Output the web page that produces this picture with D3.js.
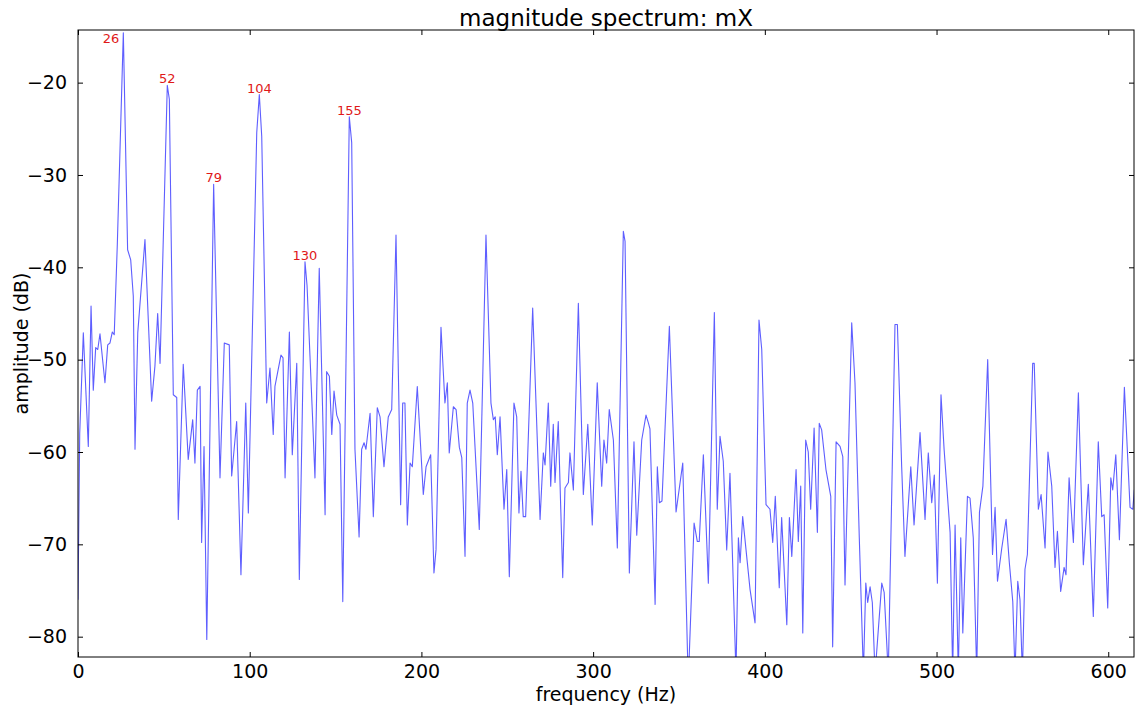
<!DOCTYPE html>
<html>
<head>
<meta charset="utf-8">
<script src="https://cdn.jsdelivr.net/npm/d3@7"></script>
<style>
  body { margin: 0; background: #fff; }
  svg { font-family: "DejaVu Sans", sans-serif; }
</style>
</head>
<body>
<div id="chart"></div>
<script>
const width = 1139
const height = 710

const margin = {
    top: 30,
    bottom: 53,
    left: 78,
    right: 5
}

// spectrum: frequency (Hz) and magnitude (dB)
const freqs = [
    0, 1.0, 3.1, 6.0, 7.6, 8.9, 10.3, 11.5, 12.8, 15.7,
    17.3, 18.6, 20.0, 21.1, 22.9, 26.4, 28.9, 30.7, 32.2, 33.2,
    34.8, 39.0, 42.9, 44.8, 46.4, 47.8, 52.0, 53.2, 55.5, 57.5,
    58.4, 61.3, 64.2, 66.8, 68.1, 69.5, 71.1, 72.0, 73.4, 75.0,
    79.0, 82.7, 85.2, 88.1, 89.5, 92.4, 94.9, 97.7, 99.2, 104.1,
    105.6, 107.0, 109.9, 111.8, 113.7, 114.7, 118.2, 119.4, 120.6, 123.1,
    124.8, 127.4, 128.9, 132.2, 133.4, 135.1, 136.5, 138.0, 140.5, 143.9,
    144.8, 146.4, 147.8, 149.1, 150.7, 152.6, 154.2, 158.0, 159.4, 161.3,
    163.7, 165.2, 166.6, 167.7, 170.1, 172.0, 174.3, 175.9, 178.2, 180.7,
    182.7, 185.2, 187.9, 189.1, 190.4, 191.8, 193.4, 194.7, 197.6, 201.1,
    202.7, 205.4, 207.3, 208.5, 211.4, 213.7, 215.1, 216.2, 218.6, 220.2,
    222.1, 223.5, 225.4, 226.7, 228.3, 229.9, 233.7, 237.6, 240.5, 241.9,
    243.0, 244.2, 245.8, 248.1, 249.7, 251.2, 253.9, 255.5, 256.8, 258.0,
    259.3, 260.7, 264.8, 269.1, 271.0, 272.0, 273.9, 275.3, 276.8, 277.8,
    279.7, 282.3, 283.6, 285.6, 286.5, 288.5, 291.4, 294.3, 296.9, 299.5,
    302.4, 305.0, 306.3, 307.9, 309.4, 311.8, 314.1, 317.6, 318.6, 321.1,
    323.8, 325.4, 328.3, 330.8, 332.1, 333.1, 336.1, 337.4, 338.6, 340.1,
    344.4, 348.3, 352.2, 355.4, 358.8, 360.7, 361.8, 364.2, 367.1, 370.6,
    372.3, 373.9, 375.8, 377.8, 379.7, 383.2, 384.6, 385.6, 387.1, 391.4,
    394.3, 396.6, 398.2, 400.7, 403.0, 404.6, 406.1, 408.4, 409.8, 412.8,
    414.3, 415.7, 418.2, 419.5, 420.9, 422.1, 423.8, 425.3, 426.7, 428.7,
    430.6, 431.7, 433.1, 435.6, 438.4, 439.5, 441.5, 443.8, 445.4, 446.7,
    450.6, 452.5, 455.0, 457.4, 458.8, 459.9, 461.3, 462.6, 464.2, 468.1,
    469.5, 471.9, 475.8, 477.2, 479.7, 481.6, 485.0, 486.9, 490.4, 493.3,
    495.2, 497.2, 498.7, 500.5, 502.6, 504.4, 507.9, 509.4, 510.8, 512.7,
    514.1, 515.3, 518.0, 519.5, 521.4, 523.4, 525.0, 527.0, 529.8, 532.6,
    534.1, 535.5, 538.0, 540.5, 542.4, 544.4, 545.7, 547.3, 548.6, 550.0,
    551.5, 552.9, 556.0, 556.9, 559.3, 560.9, 563.2, 564.9, 567.1, 569.0,
    570.4, 572.3, 574.3, 575.4, 577.2, 579.7, 582.6, 585.5, 588.4, 591.3,
    594.2, 596.2, 597.6, 599.7, 601.5, 602.6, 604.4, 606.5, 609.4, 612.7,
    614.3, 615.2
]
const mags = [
    -76, -58, -47.1, -59.4, -44.2, -53.3, -48.7, -48.9, -47.2, -52.5,
    -48.4, -48.2, -47.0, -47.3, -37.5, -14.6, -38.1, -39.2, -43.1, -59.7,
    -47.1, -37.0, -54.5, -50.7, -45.0, -50.4, -20.3, -21.8, -53.8, -54.1,
    -67.3, -50.5, -60.8, -56.5, -61.2, -53.3, -52.9, -69.8, -59.4, -80.3,
    -31.0, -62.8, -48.2, -48.4, -62.6, -56.7, -73.3, -54.7, -66.6, -25.4,
    -21.3, -25.8, -54.7, -50.9, -58.1, -52.9, -49.5, -49.8, -62.8, -47.0,
    -60.3, -50.4, -73.8, -39.4, -42.0, -49.6, -55.8, -62.8, -40.1, -66.8,
    -51.3, -51.8, -58.1, -53.4, -56.0, -57.0, -76.2, -23.7, -26.5, -59.7,
    -69.2, -59.7, -59.0, -59.7, -55.8, -67.0, -55.2, -56.2, -61.6, -56.2,
    -55.4, -36.5, -65.7, -54.7, -54.7, -67.9, -61.2, -61.6, -52.9, -64.6,
    -61.6, -60.3, -73.1, -70.6, -46.5, -54.7, -52.5, -60.1, -55.1, -55.4,
    -59.5, -60.6, -71.3, -54.7, -53.3, -54.7, -68.4, -36.5, -54.7, -56.5,
    -56.2, -60.3, -56.2, -66.2, -61.9, -73.5, -54.7, -56.2, -66.6, -62.1,
    -67.0, -67.0, -44.4, -67.3, -60.1, -61.4, -54.7, -63.7, -57.0, -63.3,
    -56.7, -73.6, -63.9, -63.3, -60.1, -64.1, -43.9, -64.6, -57.0, -67.9,
    -52.5, -63.7, -58.7, -61.2, -55.4, -58.7, -70.4, -36.1, -37.2, -73.1,
    -58.9, -69.0, -58.7, -56.0, -56.8, -57.5, -76.5, -61.6, -65.5, -65.3,
    -46.4, -66.5, -61.2, -85, -67.7, -69.7, -69.7, -60.3, -74.2, -44.9,
    -66.2, -58.3, -61.0, -70.6, -62.3, -84, -69.3, -72.0, -67.0, -74.9,
    -78.5, -45.7, -48.9, -65.7, -66.2, -69.8, -64.8, -74.7, -67.1, -78.7,
    -67.1, -71.3, -61.9, -69.7, -63.7, -79.6, -58.7, -60.0, -66.2, -57.4,
    -68.7, -56.9, -57.6, -61.9, -64.8, -81.1, -58.9, -59.4, -60.5, -74.4,
    -46.0, -52.5, -69.2, -84, -74.2, -76.3, -74.6, -76.3, -84, -74.2,
    -75.2, -84, -46.2, -46.2, -61.6, -71.3, -61.6, -67.9, -57.9, -67.3,
    -60.1, -65.5, -62.5, -74.2, -53.8, -59.7, -68.7, -84, -67.9, -84,
    -69.3, -79.6, -64.8, -65.0, -69.3, -84, -66.5, -63.7, -50.0, -71.1,
    -66.0, -74.0, -70.4, -67.3, -72.0, -76.2, -84, -74.0, -76.0, -84,
    -72.7, -71.1, -50.4, -50.4, -66.2, -64.6, -70.4, -60.0, -63.7, -72.5,
    -68.6, -75.1, -72.5, -73.3, -62.8, -69.8, -53.6, -72.2, -63.5, -77.8,
    -58.9, -67.0, -66.8, -76.9, -62.8, -64.1, -60.3, -69.5, -53.0, -66.0,
    -66.2, -64.1
]

// peak labels (Hz) drawn in red
const peakLabels = [26, 52, 79, 104, 130, 155]

const xTicks = [0, 100, 200, 300, 400, 500, 600]
const yTicks = [-80, -70, -60, -50, -40, -30, -20]
const xDomain = [0, 615]
const yDomain = [-82.2, -14.3]

const innerW = width - margin.left - margin.right
const innerH = height - margin.top - margin.bottom

const svg = d3.select("#chart").append("svg").attr("width", width).attr("height", height)

const x = d3.scaleLinear().domain(xDomain).range([0, innerW])
const y = d3.scaleLinear().domain(yDomain).range([innerH, 0])

const plot = svg.append("g").attr("transform", `translate(${margin.left}, ${margin.top})`)

plot.append("clipPath").attr("id", "clip")
    .append("rect").attr("width", innerW).attr("height", innerH)

const data = freqs.map((f, i) => ({ f: f, m: mags[i] }))

const line = d3.line().x(d => x(d.f)).y(d => y(d.m))

plot.append("path")
    .datum(data)
    .attr("clip-path", "url(#clip)")
    .attr("fill", "none")
    .attr("stroke", "#1a1aff")
    .attr("stroke-opacity", 0.7)
    .attr("stroke-width", 1.1)
    .attr("stroke-linejoin", "round")
    .attr("d", line)

// axes, matplotlib classic style: ticks inward on all four sides
const fmt = d => d < 0 ? "\u2212" + Math.abs(d) : String(d)
const tickLen = 5

const bottomAxis = plot.append("g").attr("transform", `translate(0, ${innerH})`)
    .call(d3.axisBottom(x).tickValues(xTicks).tickFormat(fmt).tickSizeInner(-tickLen).tickSizeOuter(0).tickPadding(8))
const topAxis = plot.append("g")
    .call(d3.axisTop(x).tickValues(xTicks).tickFormat("").tickSizeInner(-tickLen).tickSizeOuter(0))
const leftAxis = plot.append("g")
    .call(d3.axisLeft(y).tickValues(yTicks).tickFormat(fmt).tickSizeInner(-tickLen).tickSizeOuter(0).tickPadding(11))
const rightAxis = plot.append("g").attr("transform", `translate(${innerW}, 0)`)
    .call(d3.axisRight(y).tickValues(yTicks).tickFormat("").tickSizeInner(-tickLen).tickSizeOuter(0))

;[bottomAxis, topAxis, leftAxis, rightAxis].forEach(g => {
    g.select(".domain").remove()
    g.selectAll(".tick line").attr("stroke", "#000").attr("stroke-width", 1)
    g.selectAll("text").attr("font-family", "DejaVu Sans").attr("font-size", 19).attr("fill", "#000")
})

plot.append("rect")
    .attr("width", innerW).attr("height", innerH)
    .attr("fill", "none").attr("stroke", "#000").attr("stroke-width", 1)

// red peak labels, placed at the local maximum of the spectrum near each value
peakLabels.forEach(p => {
    const near = data.filter(d => Math.abs(d.f - p) <= 5)
    const pk = near.reduce((a, b) => (b.m > a.m ? b : a))
    const px = x(pk.f)
    const py = y(pk.m)
    const t = plot.append("text")
        .attr("font-family", "DejaVu Sans")
        .attr("font-size", 13)
        .attr("fill", "#e01818")
        .text(p)
    if (py - 14 < 0) {
        t.attr("x", px - 4).attr("y", py + 10).attr("text-anchor", "end")
    } else {
        t.attr("x", px).attr("y", py - 2).attr("text-anchor", "middle")
    }
})

svg.append("text")
    .attr("x", margin.left + innerW / 2).attr("y", 26)
    .attr("text-anchor", "middle")
    .attr("font-size", 23)
    .text("magnitude spectrum: mX")

svg.append("text")
    .attr("x", margin.left + innerW / 2).attr("y", 701)
    .attr("text-anchor", "middle")
    .attr("font-size", 19)
    .text("frequency (Hz)")

svg.append("text")
    .attr("transform", `translate(28, ${margin.top + innerH / 2}) rotate(-90)`)
    .attr("text-anchor", "middle")
    .attr("font-size", 19)
    .text("amplitude (dB)")
</script>
</body>
</html>
